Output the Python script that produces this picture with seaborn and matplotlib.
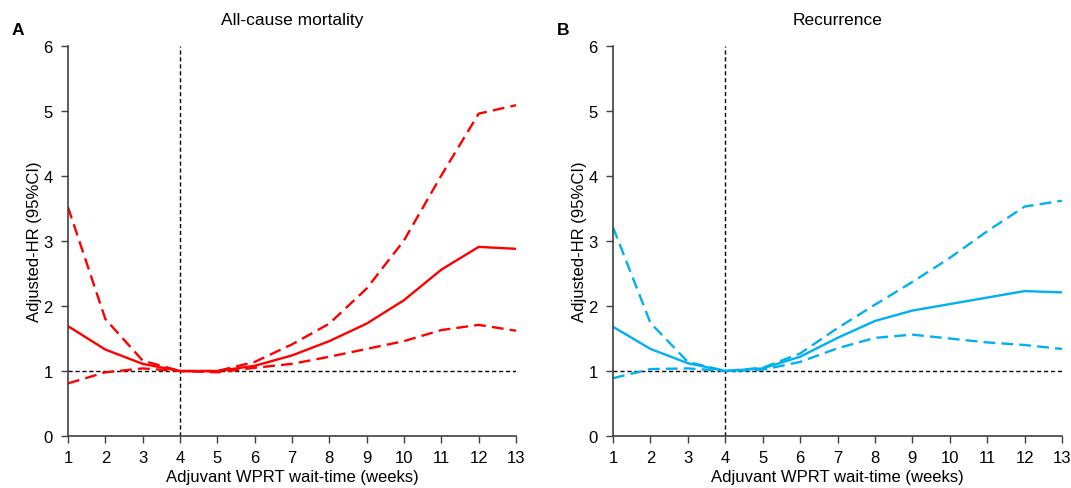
import matplotlib
matplotlib.use("Agg")
import matplotlib.pyplot as plt
import seaborn as sns
import pandas as pd

weeks = list(range(1, 14))

# All-cause mortality: adjusted HR with 95% CI
mort_hr = [1.69, 1.33, 1.11, 1.00, 1.00, 1.08, 1.24, 1.46, 1.73, 2.09, 2.56, 2.91, 2.88]
mort_upper = [3.52, 1.80, 1.16, 1.00, 1.00, 1.14, 1.41, 1.73, 2.27, 3.01, 4.01, 4.96, 5.09]
mort_lower = [0.81, 0.98, 1.04, 1.00, 0.98, 1.05, 1.11, 1.22, 1.34, 1.46, 1.63, 1.71, 1.62]

# Recurrence: adjusted HR with 95% CI
rec_hr = [1.68, 1.34, 1.12, 1.00, 1.04, 1.22, 1.51, 1.77, 1.93, 2.03, 2.13, 2.23, 2.21]
rec_upper = [3.21, 1.74, 1.14, 1.00, 1.05, 1.27, 1.66, 2.02, 2.37, 2.74, 3.15, 3.53, 3.62]
rec_lower = [0.89, 1.03, 1.04, 1.00, 1.02, 1.14, 1.35, 1.51, 1.56, 1.50, 1.44, 1.40, 1.34]

sns.set_theme(style="white")
plt.rcParams['font.family'] = ['Liberation Sans', 'DejaVu Sans']
plt.rcParams['text.color'] = 'black'
plt.rcParams['axes.labelcolor'] = 'black'
plt.rcParams['xtick.color'] = 'black'
plt.rcParams['ytick.color'] = 'black'

fig = plt.figure(figsize=(10.71, 4.89), dpi=100)
ax_a = fig.add_axes([0.0635, 0.1063, 0.4183, 0.7975])
ax_b = fig.add_axes([0.5724, 0.1063, 0.4192, 0.7975])


def draw_panel(ax, hr, upper, lower, color, title, letter):
    df = pd.DataFrame({"week": weeks, "hr": hr, "upper": upper, "lower": lower})
    sns.lineplot(data=df, x="week", y="hr", ax=ax, color=color, lw=1.7)
    sns.lineplot(data=df, x="week", y="upper", ax=ax, color=color, lw=1.7,
                 linestyle=(0, (5, 2.6)))
    sns.lineplot(data=df, x="week", y="lower", ax=ax, color=color, lw=1.7,
                 linestyle=(0, (5, 2.6)))
    ax.axhline(1, color="black", lw=1, linestyle=(0, (3, 2)), zorder=0)
    ax.axvline(4, color="black", lw=1, linestyle=(0, (3, 2)), zorder=0)
    ax.set_xlim(1, 13)
    ax.set_ylim(0, 6)
    ax.set_xticks(weeks)
    ax.set_yticks(range(0, 7))
    ax.tick_params(axis="both", direction="out", length=5, width=1, color="#404040",
                   labelsize=12, bottom=True, left=True)
    ax.tick_params(axis="x", pad=5)
    ax.tick_params(axis="y", pad=6)
    for s in ["top", "right"]:
        ax.spines[s].set_visible(False)
    for s in ["left", "bottom"]:
        ax.spines[s].set_color("#404040")
        ax.spines[s].set_linewidth(1.2)
    ax.set_xlabel("Adjuvant WPRT wait-time (weeks)", fontsize=12, labelpad=3)
    ax.set_ylabel("Adjusted-HR (95%CI)", fontsize=12, labelpad=1)
    ax.set_title(title, fontsize=12.5, pad=16)
    ax.text(-0.125, 1.03, letter, transform=ax.transAxes, fontsize=12.5, fontweight="bold")


draw_panel(ax_a, mort_hr, mort_upper, mort_lower, "#FF0000", "All-cause mortality", "A")
draw_panel(ax_b, rec_hr, rec_upper, rec_lower, "#00B0F0", "Recurrence", "B")

fig.savefig("out.png", dpi=100)
